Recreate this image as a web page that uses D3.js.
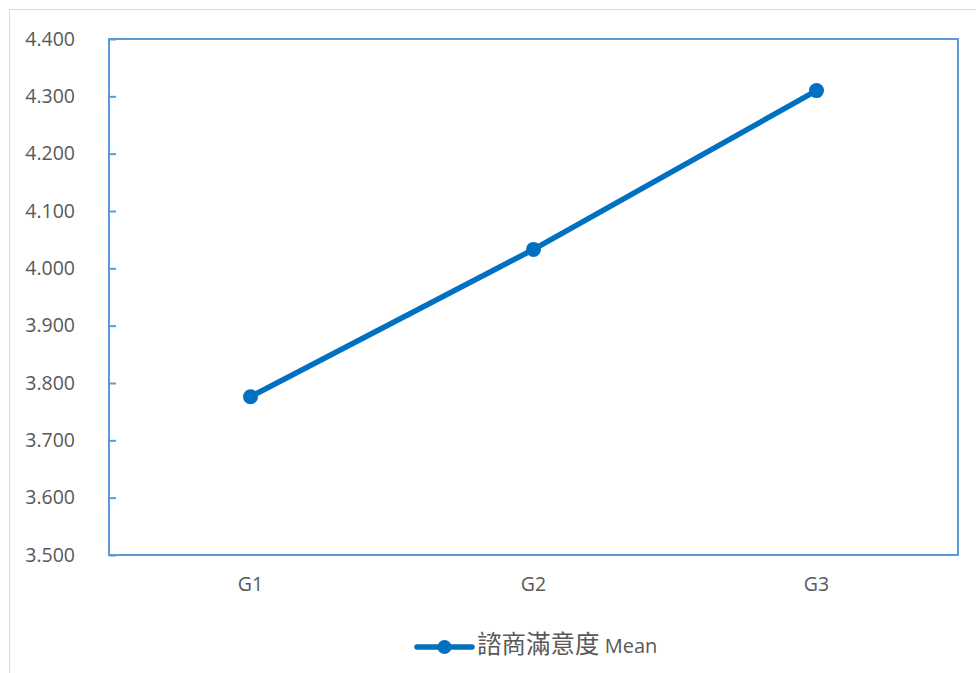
<!DOCTYPE html>
<html>
<head>
<meta charset="utf-8">
<script src="https://cdn.jsdelivr.net/npm/d3@7"></script>
<style>
  html, body { margin: 0; padding: 0; background: #fff; }
  svg { display: block; }
</style>
</head>
<body>
<script>
// Group means
const categories = ["G1", "G2", "G3"];
const meanValues = [3.776, 4.033, 4.310];
const yTickValues = [3.5, 3.6, 3.7, 3.8, 3.9, 4.0, 4.1, 4.2, 4.3, 4.4];
const seriesName = "諮商滿意度";
const seriesSuffix = " Mean";

const W = 976, H = 673;
const plot = { left: 109, right: 958, top: 39, bottom: 555 };
const lineColor = "#0070c0";
const axisColor = "#5b9bd5";
const textColor = "#595959";
const font = "'Open Sans', 'Noto Sans', sans-serif";

const svg = d3.select("body").append("svg")
  .attr("width", W).attr("height", H);

// Chart frame
svg.append("rect")
  .attr("x", 9.5).attr("y", 9.5)
  .attr("width", W + 20).attr("height", H + 20)
  .attr("fill", "none").attr("stroke", "#d9d9d9").attr("stroke-width", 1);

const x = d3.scaleBand().domain(categories).range([plot.left, plot.right]);
const y = d3.scaleLinear().domain([3.5, 4.4]).range([plot.bottom, plot.top]);

// Y axis labels and inner ticks
const yAxis = d3.axisLeft(y)
  .tickValues(yTickValues)
  .tickFormat(d3.format(".3f"))
  .tickSizeInner(-7)
  .tickSizeOuter(0)
  .tickPadding(34);
const gy = svg.append("g").attr("transform", `translate(${plot.left},0)`).call(yAxis);
gy.select(".domain").remove();
gy.selectAll(".tick line").attr("stroke", axisColor).attr("stroke-width", 2);
gy.selectAll(".tick text")
  .attr("fill", textColor)
  .style("font-family", font)
  .style("font-size", "19.5px");

// X axis labels
const xAxis = d3.axisBottom(x).tickSize(0).tickPadding(22);
const gx = svg.append("g").attr("transform", `translate(0,${plot.bottom})`).call(xAxis);
gx.select(".domain").remove();
gx.selectAll(".tick text")
  .attr("fill", textColor)
  .style("font-family", font)
  .style("font-size", "19.5px");

// Plot area border
svg.append("rect")
  .attr("x", plot.left).attr("y", plot.top)
  .attr("width", plot.right - plot.left).attr("height", plot.bottom - plot.top)
  .attr("fill", "none").attr("stroke", axisColor).attr("stroke-width", 2);

// Series line and markers
const points = categories.map((c, i) => ({ c, v: meanValues[i] }));
const line = d3.line()
  .x(d => x(d.c) + x.bandwidth() / 2)
  .y(d => y(d.v));

svg.append("path")
  .datum(points)
  .attr("d", line)
  .attr("fill", "none")
  .attr("stroke", lineColor)
  .attr("stroke-width", 5.5)
  .attr("stroke-linecap", "round");

svg.selectAll("circle.pt")
  .data(points)
  .join("circle")
  .attr("class", "pt")
  .attr("cx", d => x(d.c) + x.bandwidth() / 2)
  .attr("cy", d => y(d.v))
  .attr("r", 7.5)
  .attr("fill", lineColor);

// Legend
const lg = svg.append("g").attr("transform", "translate(417,647)");
lg.append("line")
  .attr("x1", 0).attr("x2", 55).attr("y1", 0).attr("y2", 0)
  .attr("stroke", lineColor).attr("stroke-width", 5.5).attr("stroke-linecap", "round");
lg.append("circle").attr("cx", 27.5).attr("cy", 0).attr("r", 7).attr("fill", lineColor);
const lt = lg.append("text")
  .attr("x", 60).attr("y", 0).attr("dy", "0.35em")
  .attr("fill", textColor)
  .style("font-family", font);
lt.append("tspan")
  .style("font-family", "'Noto Sans CJK TC', 'Noto Sans CJK SC', sans-serif")
  .style("font-size", "24.5px")
  .text(seriesName);
lt.append("tspan")
  .style("font-size", "20px")
  .text(seriesSuffix);
</script>
</body>
</html>
